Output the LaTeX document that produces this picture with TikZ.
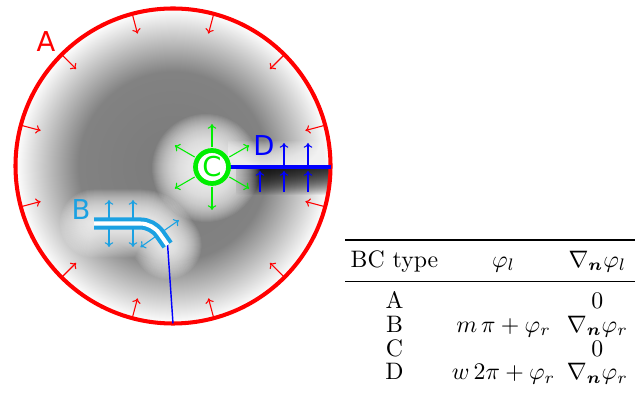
\documentclass[tikz,border=0pt]{standalone}
\usepackage{fontspec}
\setsansfont{DejaVu Sans}
\usepackage{amsmath,bm,array,booktabs}
\usetikzlibrary{arrows.meta,calc}
\definecolor{cA}{HTML}{FF0000}
\definecolor{cB}{HTML}{1BA1E2}
\definecolor{cC}{HTML}{00EE00}
\definecolor{cD}{HTML}{0000FF}
\pgfdeclareradialshading{domain}{\pgfpointorigin}{color(0bp)=(black!52); color(15bp)=(black!49); color(25bp)=(white); color(50bp)=(white)}
\tikzset{
  bclabel/.style={font=\sffamily\fontsize{11.5}{13}\selectfont, inner sep=0pt},
  normarr/.style={-{To[length=2pt,width=3.6pt]}, line width=0.45pt},
  botharr/.style={{To[length=2pt,width=3.6pt]}-{To[length=2pt,width=3.6pt]}, line width=0.45pt},
  glow/.style={white, opacity=0.06},
}

\begin{document}
\begin{tikzpicture}[x=0.42pt, y=-0.42pt]
  \useasboundingbox (0,0) rectangle (641,405);
  \coordinate (O) at (173,166);
  \coordinate (C) at (212,167);
  \coordinate (Dend) at (330.5,167);
  \coordinate (Bend) at (167.6,245);
  \coordinate (Bot) at ($(O)+(90:157.5)$);
  \def\Bpath{(94,223.5) -- (140,223.5) arc[start angle=-90, end angle=-35, radius=24] -- (Bend)}
  % --- domain with glows ---
  \begin{scope}
    \clip (O) circle (157.5);
    \shade[shading=domain] (O) circle (157.5);
    \foreach \w in {68,66,...,6}
      \draw[glow, line width={\w*0.42pt}, line cap=round] \Bpath;
    \foreach \h in {1,2,...,26}
      \fill[glow, opacity=0.07] (228,167) rectangle (331,167-\h);
    \foreach \h in {1,2,...,28}
      \fill[black, opacity=0.055] (236,167) rectangle (331,167+\h);
    \foreach \r in {54,53,...,18}
      \fill[glow, opacity=0.055] (206,168) circle (\r);
  \end{scope}
  % --- A: outer boundary ---
  \foreach \a in {15,45,...,345}
    \draw[normarr, cA] ($(O)+(\a:157.5)$) -- ($(O)+(\a:137)$);
  \draw[cA, line width=1.7pt] (O) circle (157.5);
  \node[bclabel, text=cA] (labA) at (46,42) {A};
  % --- B: double line ---
  \draw[cD, line width=0.6pt] (Bend) -- (Bot);
  \draw[botharr, cB] (109,200) -- (109,247);
  \draw[botharr, cB] (133,200) -- (133,247);
  \draw[botharr, cB] (140.4,247.2) -- (178.9,220.2);
  \draw[cB, line width=1.7pt, double=white, double distance=1.7pt] \Bpath;
  \node[bclabel, text=cB] (labB) at (81,210) {B};
  % --- D: cut ---
  \draw[cD, line width=2pt] (C) -- (Dend);
  \foreach \x in {284,308}
    \draw[normarr, cD] (\x,165.5) -- (\x,143);
  \foreach \x in {260,284,308}
    \draw[normarr, cD] (\x,192) -- (\x,171);
  \node[bclabel, text=cD] (labD) at (264,146) {D};
  % --- C: core ---
  \foreach \a in {30,90,...,330}
    \draw[normarr, cC] ($(C)+(\a:20)$) -- ($(C)+(\a:43)$);
  \draw[cC, line width=2pt, fill=white] (C) circle (16.5);
  \node[bclabel, text=cC] (labC) at (C) {C};
  % --- table ---
  \node[anchor=north west, inner sep=0pt, font=\fontsize{10}{12}\selectfont] (tab) at (345,238.5) {%
    \renewcommand\arraystretch{0.82}\setlength\tabcolsep{2.2pt}%
    \setlength\belowrulesep{4pt}\setlength\aboverulesep{2.9pt}%
    \begin{tabular}{c w{c}{46pt} w{c}{24pt}@{\hspace{4pt}}}
      \toprule
      BC type & $\varphi_l$ & $\nabla_{\bm n}\varphi_l$ \\
      \midrule
      A & & $0$ \\
      B & $m\,\pi+\varphi_r$ & $\nabla_{\bm n}\varphi_r$ \\
      C & & $0$ \\
      D & $w\,2\pi+\varphi_r$ & $\nabla_{\bm n}\varphi_r$ \\
    \end{tabular}};
\end{tikzpicture}
\end{document}
